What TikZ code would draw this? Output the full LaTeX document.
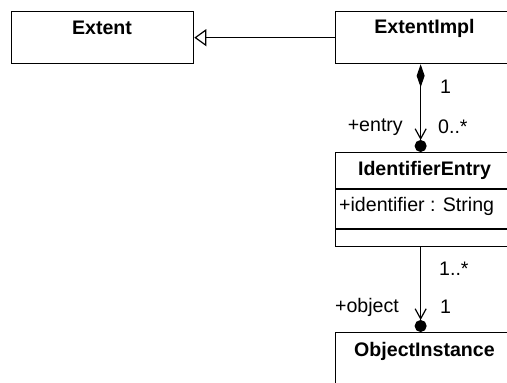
\documentclass[tikz,border=0pt]{standalone}
\usepackage{fontspec}
\setmainfont{Liberation Sans}
\usetikzlibrary{arrows.meta}
\begin{document}
\begin{tikzpicture}[x=1pt,y=-1pt,
  cls/.style={draw, line width=1.3pt, rectangle, anchor=north west, minimum width=180pt, inner sep=0pt},
  ttl/.style={font=\fontsize{19.6}{22}\selectfont\bfseries, inner sep=0pt},
  lbl/.style={font=\fontsize{19.6}{22}\selectfont, inner sep=0pt},
  conn/.style={line width=1.3pt},
  ownend/.style={-{Straight Barb[length=10pt,width=11pt,line width=1.2pt] Circle[length=12pt,width=12pt,sep=0pt]}}]
\useasboundingbox (0,0) rectangle (507,383);
\fill[white] (0,0) rectangle (507,383);
\clip (0,0) rectangle (507,383);
% classes
\node[cls, minimum width=182pt, minimum height=52pt] (extent) at (11,11) {};
\node[ttl] (extentT) at (102,28) {Extent};
\node[cls, minimum height=52pt] (impl) at (335,11) {};
\node[ttl] (implT) at (424.5,28) {ExtentImpl};
\node[cls, minimum height=94pt] (ident) at (335,152) {};
\node[ttl] (identT) at (424.5,170) {IdentifierEntry};
\draw[conn] (335,189) coordinate (d1a) -- (515,189) coordinate (d1b);
\draw[conn] (335,229) coordinate (d2a) -- (515,229) coordinate (d2b);
\node[lbl, anchor=west] (attr) at (339,206) {+identifier : String};
\node[cls, minimum height=80pt] (obj) at (335,332) {};
\node[ttl] (objT) at (424.5,351) {ObjectInstance};
% generalization
\draw[conn, -{Triangle[open,length=12pt,width=17pt,line width=1.2pt]}] (impl.west) -- (extent.east);
% composition
\draw[conn, {Diamond[length=23pt,width=8pt]}-{Straight Barb[length=10pt,width=11pt,line width=1.2pt] Circle[length=12pt,width=12pt,sep=0pt]}]
  ([xshift=-5pt]impl.south) -- ([xshift=-5pt]ident.north);
\draw[conn, ownend] ([xshift=-5pt]ident.south) -- ([xshift=-5pt]obj.north);
% labels
\node[lbl, anchor=west] (m1) at (440,87) {1};
\node[lbl, anchor=west] (m2) at (438,127) {0..*};
\node[lbl, anchor=east] (r1) at (403,127) {+entry};
\node[lbl, anchor=west] (m3) at (439,269) {1..*};
\node[lbl, anchor=east] (r2) at (399,307) {+object};
\node[lbl, anchor=west] (m4) at (440,307) {1};
\end{tikzpicture}
\end{document}
